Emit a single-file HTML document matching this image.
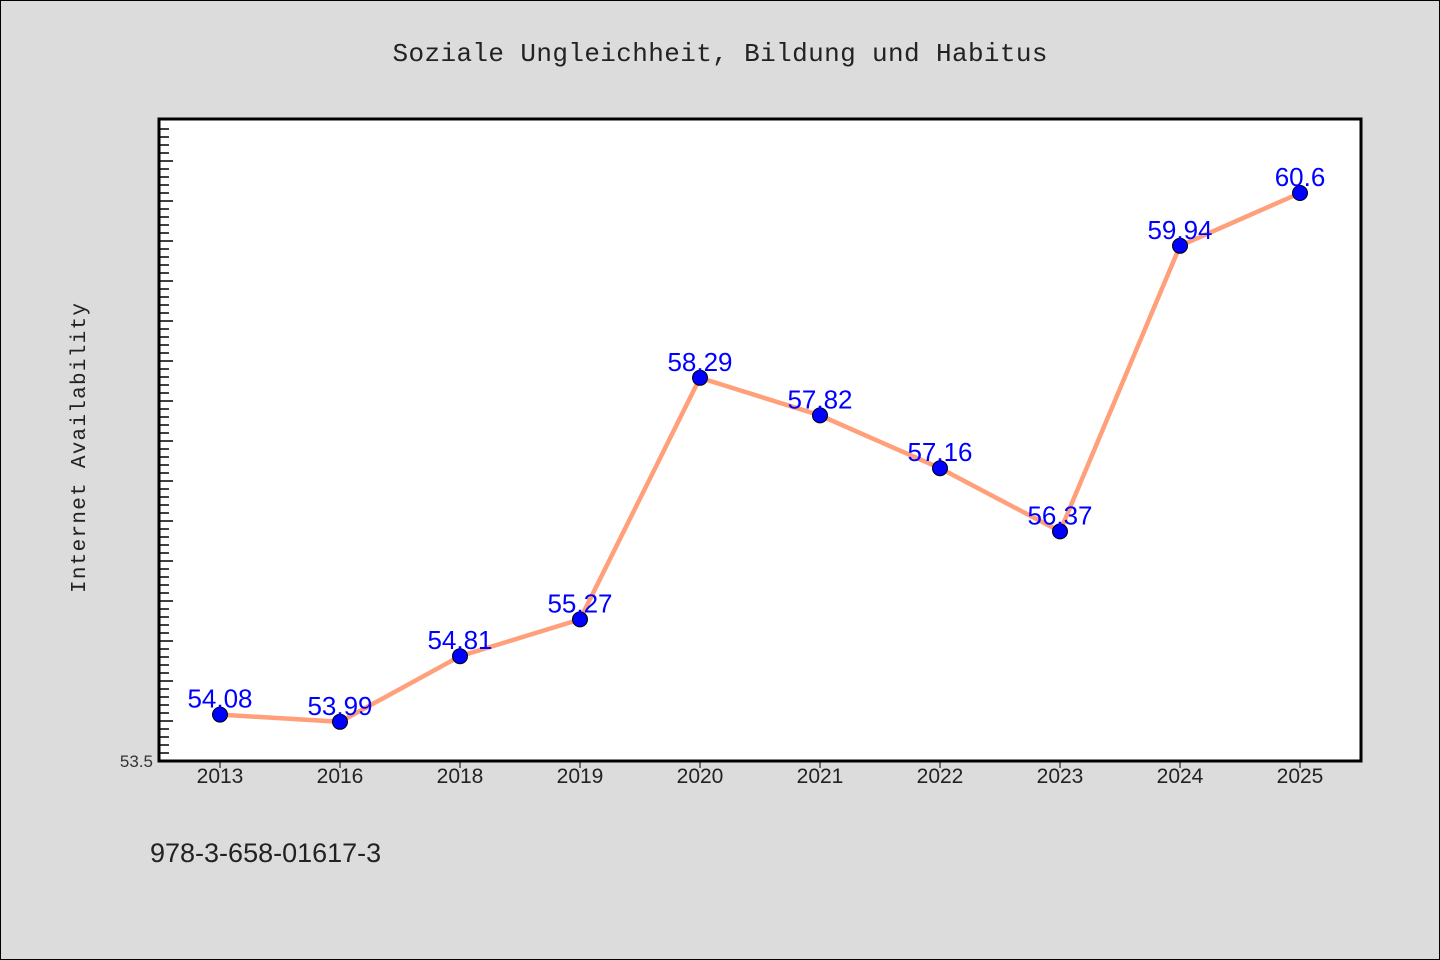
<!DOCTYPE html>
<html><head><meta charset="utf-8"><style>body{margin:0;background:#dcdcdc}svg{display:block}</style></head>
<body>
<svg id="c" width="1440" height="960" xmlns="http://www.w3.org/2000/svg">
<rect x="0.5" y="0.5" width="1439" height="959" fill="#dcdcdc" stroke="#000"/>
<text x="720" y="61" text-anchor="middle" font-family="'WenQuanYi Zen Hei','Liberation Mono',monospace" font-size="26" textLength="655" fill="#222">Soziale Ungleichheit, Bildung und Habitus</text>
<rect x="159" y="119" width="1202" height="642" fill="#fff" stroke="#000" stroke-width="3"/>
<text transform="translate(85,448) rotate(-90)" text-anchor="middle" font-family="'WenQuanYi Zen Hei','Liberation Mono',monospace" font-size="21" textLength="290" fill="#222">Internet Availability</text>
<text x="153" y="767" text-anchor="end" font-family="'WenQuanYi Zen Hei','Liberation Sans',sans-serif" font-size="17" fill="#333">53.5</text>
<text x="150" y="862" font-family="'Liberation Sans',sans-serif" font-size="27" fill="#222">978-3-658-01617-3</text>
<g id="ticks"></g><g id="marks"></g>
</svg>
<script>
const categories=["2013","2016","2018","2019","2020","2021","2022","2023","2024","2025"];
const values=[54.08,53.99,54.81,55.27,58.29,57.82,57.16,56.37,59.94,60.6];
const labels=["54.08","53.99","54.81","55.27","58.29","57.82","57.16","56.37","59.94","60.6"];
const yMin=53.5, yMax=61.525;
const NS="http://www.w3.org/2000/svg";
const X=i=>220+120*i;
const Y=v=>761-(v-yMin)/(yMax-yMin)*642;
function mk(t,a,p){const e=document.createElementNS(NS,t);for(const k in a)e.setAttribute(k,a[k]);p.appendChild(e);return e;}
const tk=document.getElementById('ticks'),mg=document.getElementById('marks');
for(let k=1;k<=80;k++){const y=761-k*8;if(y<=121)break;const maj=k%5==0;
const l=mk('line',{x1:160,x2:maj?173:169,y1:y,y2:y,stroke:'#000','stroke-width':1.5},tk);
}
categories.forEach((c,i)=>{const l=mk('line',{x1:X(i),x2:X(i),y1:762,y2:768,stroke:'#000','stroke-width':1},tk);

const t=mk('text',{x:X(i),y:783,'text-anchor':'middle','font-family':"'Liberation Sans',sans-serif",'font-size':21,fill:'#222'},tk);
t.textContent=c;});
const pl=mk('polyline',{points:values.map((v,i)=>X(i)+','+Y(v)).join(' '),fill:'none',stroke:'#ffa07a','stroke-width':4.5},mg);

values.forEach((v,i)=>{const c=mk('circle',{cx:X(i),cy:Y(v),r:7.5,fill:'#0000ff',stroke:'#000','stroke-width':1},mg);

const t=mk('text',{x:X(i),y:Y(v)-7,'text-anchor':'middle','font-family':"'Liberation Sans',sans-serif",'font-size':26,fill:'#0000ff'},mg);
t.textContent=labels[i];});
</script>
</body></html>
